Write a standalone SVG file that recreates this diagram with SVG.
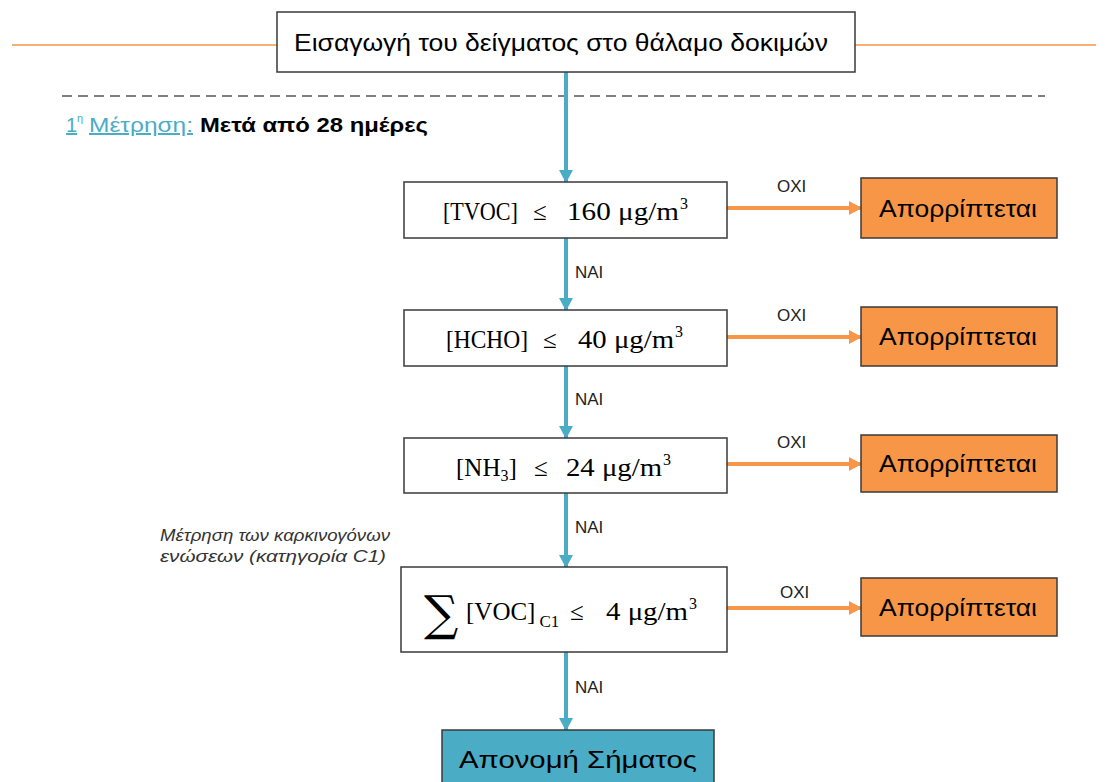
<svg xmlns="http://www.w3.org/2000/svg" width="1108" height="782" viewBox="0 0 1108 782">
<style>
.box{fill:#fff;stroke:#3a3a3a;stroke-width:1.5}
.rej{fill:#F79646;stroke:#3a3a3a;stroke-width:1.5}
.fin{fill:#4BACC6;stroke:#3a3a3a;stroke-width:1.5}
.sans{font-family:"Liberation Sans",Arial,sans-serif}
.math{font-family:"Liberation Serif","Times New Roman",serif;font-size:25px;fill:#000}
.sup{font-family:"Liberation Serif","Times New Roman",serif;font-size:16px;fill:#000}
.lbl{font-family:"Liberation Sans",Arial,sans-serif;font-size:17px;fill:#222}
.big{font-family:"Liberation Sans",Arial,sans-serif;font-size:24px;fill:#000}
.blue{stroke:#4BACC6;stroke-width:4;fill:none}
.orange{stroke:#F79646;stroke-width:4;fill:none}
</style>
<defs>
<marker id="ab" markerWidth="14" markerHeight="14" refX="12" refY="7" orient="auto" markerUnits="userSpaceOnUse" viewBox="0 0 14 14"><path d="M0,0 L13,7 L0,14 z" fill="#4BACC6"/></marker>
<marker id="ao" markerWidth="14" markerHeight="14" refX="12" refY="7" orient="auto" markerUnits="userSpaceOnUse" viewBox="0 0 14 14"><path d="M0,0 L13,7 L0,14 z" fill="#F79646"/></marker>
</defs>
<rect width="1108" height="782" fill="#fff"/>
<g id="guides">
<line x1="12" y1="45" x2="277" y2="45" stroke="#F79646" stroke-width="1.5"/>
<line x1="855" y1="45" x2="1096" y2="45" stroke="#F79646" stroke-width="1.5"/>
<line x1="62" y1="96" x2="1045" y2="96" stroke="#555" stroke-width="1.5" stroke-dasharray="10,6"/>
<text x="66" y="132" class="sans" font-size="20" fill="#4BACC6" text-decoration="underline">1</text>
<text x="77" y="122" class="sans" font-size="11" fill="#4BACC6">η</text>
<text x="89" y="132" class="sans" font-size="20" fill="#4BACC6" text-decoration="underline" textLength="104" lengthAdjust="spacingAndGlyphs">Μέτρηση:</text>
<text x="200" y="132" class="sans" font-size="20" font-weight="bold" fill="#000" textLength="228" lengthAdjust="spacingAndGlyphs">Μετά από 28 ημέρες</text>
<text x="160" y="541" class="sans" font-size="17" font-style="italic" fill="#333" textLength="230" lengthAdjust="spacingAndGlyphs">Μέτρηση των καρκινογόνων</text>
<text x="160" y="562" class="sans" font-size="17" font-style="italic" fill="#333" textLength="226" lengthAdjust="spacingAndGlyphs">ενώσεων (κατηγορία C1)</text>
</g>
<g id="connectors">
<line x1="566" y1="72" x2="566" y2="182" class="blue" marker-end="url(#ab)"/>
<line x1="566" y1="238" x2="566" y2="310" class="blue" marker-end="url(#ab)"/>
<line x1="566" y1="366" x2="566" y2="438" class="blue" marker-end="url(#ab)"/>
<line x1="566" y1="493" x2="566" y2="567" class="blue" marker-end="url(#ab)"/>
<line x1="566" y1="652" x2="566" y2="730" class="blue" marker-end="url(#ab)"/>
<line x1="727" y1="208" x2="861" y2="208" class="orange" marker-end="url(#ao)"/>
<line x1="727" y1="337" x2="861" y2="337" class="orange" marker-end="url(#ao)"/>
<line x1="727" y1="464" x2="861" y2="464" class="orange" marker-end="url(#ao)"/>
<line x1="727" y1="608" x2="861" y2="608" class="orange" marker-end="url(#ao)"/>
<text x="575" y="278" class="lbl">NAI</text>
<text x="575" y="405" class="lbl">NAI</text>
<text x="575" y="533" class="lbl">NAI</text>
<text x="575" y="693" class="lbl">NAI</text>
<text x="777" y="192" class="lbl">OXI</text>
<text x="777" y="321" class="lbl">OXI</text>
<text x="777" y="448" class="lbl">OXI</text>
<text x="780" y="598" class="lbl">OXI</text>
</g>
<g id="start">
<rect x="277" y="12" width="578" height="60" class="box"/>
<text x="294" y="51" class="big" textLength="534" lengthAdjust="spacingAndGlyphs">Εισαγωγή του δείγματος στο θάλαμο δοκιμών</text>
</g>
<g id="tvoc">
<rect x="404" y="182" width="323" height="56" class="box"/>
<text x="443" y="220" class="math" textLength="75" lengthAdjust="spacingAndGlyphs">[TVOC]</text>
<text x="533" y="220" class="math">≤</text>
<text x="567" y="220" class="math" textLength="112" lengthAdjust="spacingAndGlyphs">160 μg/m</text>
<text x="680" y="209" class="sup">3</text>
</g>
<g id="hcho">
<rect x="404" y="310" width="323" height="56" class="box"/>
<text x="446" y="348" class="math" textLength="82" lengthAdjust="spacingAndGlyphs">[HCHO]</text>
<text x="543" y="348" class="math">≤</text>
<text x="578" y="348" class="math" textLength="96" lengthAdjust="spacingAndGlyphs">40 μg/m</text>
<text x="675" y="337" class="sup">3</text>
</g>
<g id="nh3">
<rect x="404" y="438" width="323" height="55" class="box"/>
<text x="456" y="476" class="math">[NH<tspan style="font-size:16px" dy="5">3</tspan><tspan dy="-5">]</tspan></text>
<text x="534" y="476" class="math">≤</text>
<text x="566" y="476" class="math" textLength="96" lengthAdjust="spacingAndGlyphs">24 μg/m</text>
<text x="663" y="465" class="sup">3</text>
</g>
<g id="voc">
<rect x="401" y="567" width="326" height="85" class="box"/>
<text x="424" y="630" font-family="'DejaVu Serif','Liberation Serif',serif" font-size="48" fill="#000">∑</text>
<text x="466" y="620" class="math">[VOC]<tspan style="font-size:17px" dx="4" dy="7">C1</tspan></text>
<text x="570" y="620" class="math">≤</text>
<text x="606" y="620" class="math" textLength="82" lengthAdjust="spacingAndGlyphs">4 μg/m</text>
<text x="689" y="609" class="sup">3</text>
</g>
<g id="rej1">
<rect x="861" y="178" width="196" height="60" class="rej"/>
<text x="879" y="217" class="big" textLength="158" lengthAdjust="spacingAndGlyphs">Απορρίπτεται</text>
</g>
<g id="rej2">
<rect x="861" y="307" width="196" height="59" class="rej"/>
<text x="879" y="345" class="big" textLength="158" lengthAdjust="spacingAndGlyphs">Απορρίπτεται</text>
</g>
<g id="rej3">
<rect x="861" y="435" width="196" height="57" class="rej"/>
<text x="879" y="472" class="big" textLength="158" lengthAdjust="spacingAndGlyphs">Απορρίπτεται</text>
</g>
<g id="rej4">
<rect x="861" y="578" width="196" height="58" class="rej"/>
<text x="879" y="616" class="big" textLength="158" lengthAdjust="spacingAndGlyphs">Απορρίπτεται</text>
</g>
<g id="award">
<rect x="442" y="730" width="272" height="60" class="fin"/>
<text x="459" y="768" class="big" textLength="238" lengthAdjust="spacingAndGlyphs">Απονομή Σήματος</text>
</g>
</svg>
